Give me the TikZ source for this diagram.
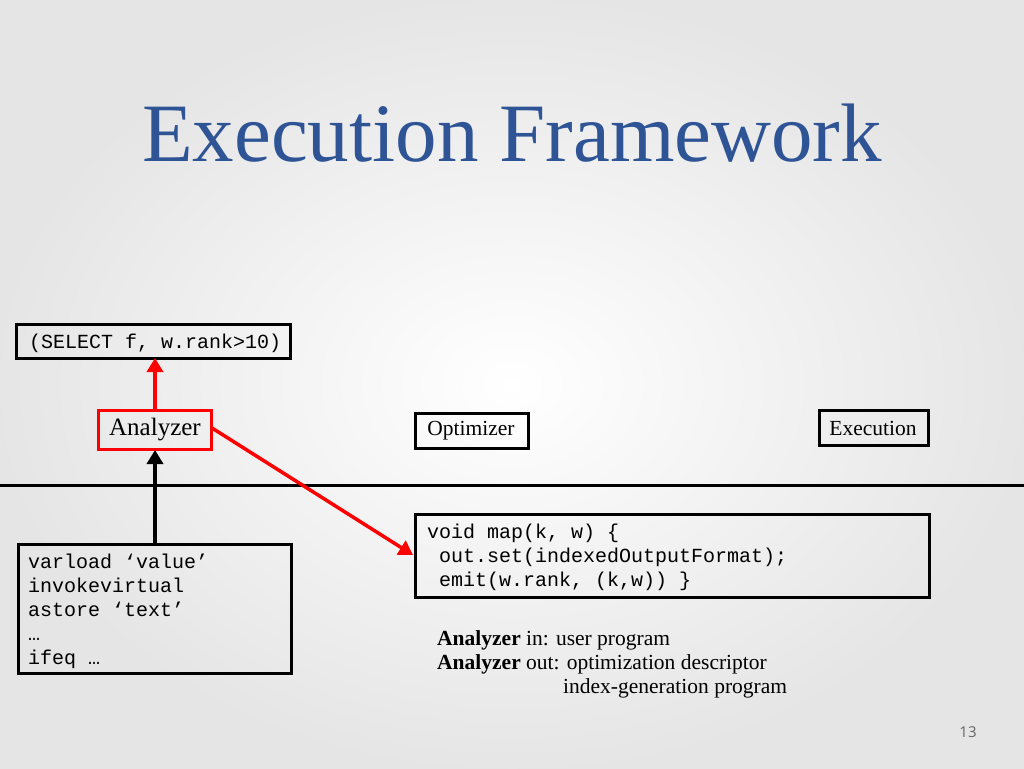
\documentclass[tikz,border=0pt]{standalone}
\usepackage{fontspec}
\setmainfont{Liberation Serif}
\setmonofont{Liberation Mono}
\setsansfont{Open Sans}
\usetikzlibrary{arrows.meta}
\definecolor{titleblue}{RGB}{47,84,150}
\begin{document}
\begin{tikzpicture}[x=1pt,y=-1pt,
  box/.style={draw=black,line width=3pt,inner sep=0pt},
  code/.style={font=\fontsize{20}{24}\selectfont\ttfamily,align=left,anchor=north west,inner sep=0pt},
  ser/.style={font=\fontsize{21.5}{25}\selectfont},
  arr/.style={line width=3.5pt,-{Triangle[length=14pt,width=16pt]}}]
\useasboundingbox (0,0) rectangle (1024,768);
\shade[inner color=white,outer color=black!10] (0,0) rectangle (1024,768);
\node[text=titleblue,font=\fontsize{83}{90}\selectfont] (title) at (512,133) {Execution Framework};
% boxes
\draw[box] (16,324) rectangle (290,358);
\node[code,anchor=west] (seltxt) at (29,343) {(SELECT f, w.rank>10)};
\draw[box,draw=red] (98,410) rectangle (211,449);
\node[ser,font=\fontsize{25}{28}\selectfont] (an) at (155,430) {Analyzer};
\draw[box] (415,413) rectangle (528,448);
\node[ser] (opt) at (471,431) {Optimizer};
\draw[box] (819,410) rectangle (928,445);
\node[ser] (exe) at (873,428) {Execution};
\draw[line width=3pt] (0,485) -- (1024,485);
\draw[box] (18,544) rectangle (291,673);
\node[code] (byte) at (28,554) {varload ‘value’\\invokevirtual\\astore ‘text’\\…\\ifeq …};
\draw[box] (415,514) rectangle (929,597);
\node[code] (map) at (427,524) {void map(k, w) \{\\\ out.set(indexedOutputFormat);\\\ emit(w.rank, (k,w)) \}};
\node[anchor=north west,inner sep=0pt,font=\fontsize{21.5}{24}\selectfont,align=left] (desc) at (437,630)
 {\textbf{Analyzer} in: user program\\\textbf{Analyzer} out: optimization descriptor\\\hspace*{126pt}index-generation program};
\node[font=\fontsize{15}{18}\selectfont\sffamily,text=black!60] (pg) at (968,732) {13};
% arrows
\coordinate (anT) at (155,409); \coordinate (selB) at (155,358);
\coordinate (anB) at (155,450); \coordinate (byT) at (155,544);
\coordinate (anR) at (212,428); \coordinate (mapL) at (413,555);
\draw[arr,red] (anT) -- (selB);
\draw[arr,black] (byT) -- (anB);
\draw[arr,red] (anR) -- (mapL);
\end{tikzpicture}
\end{document}
